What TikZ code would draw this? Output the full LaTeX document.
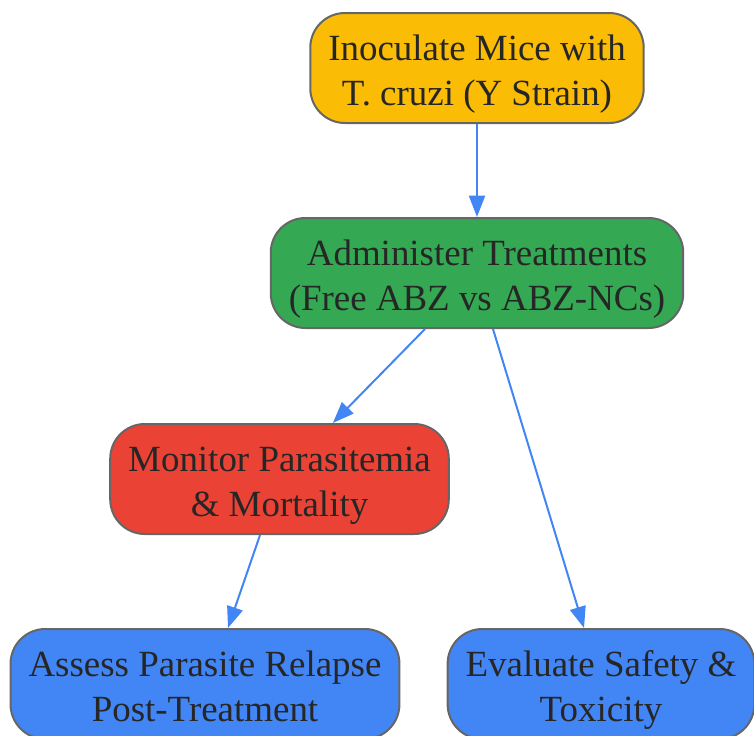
\documentclass[tikz,border=0pt]{standalone}
\usepackage{fontspec}
\setmainfont{Liberation Serif}
\usetikzlibrary{arrows.meta}

\definecolor{gyellow}{HTML}{FBBC05}
\definecolor{ggreen}{HTML}{34A853}
\definecolor{gred}{HTML}{EA4335}
\definecolor{gblue}{HTML}{4285F4}
\definecolor{edgegray}{HTML}{666666}
\definecolor{txtgray}{HTML}{262626}

\tikzset{
  stage/.style={draw=edgegray, line width=1.5pt, rounded corners=26pt,
    align=center, inner xsep=13.5pt, minimum height=82.5pt,
    text height=61pt, text depth=5.5pt,
    text=txtgray, font=\fontsize{27.7pt}{33.75pt}\selectfont},
  flow/.style={-{Triangle[length=16pt,width=12pt]}, draw=gblue, line width=1.5pt}
}

\begin{document}
\begin{tikzpicture}[x=0.75pt, y=-0.75pt]
    \useasboundingbox (0,0) rectangle (754,736);

    % 步骤节点
    \node[stage, fill=gyellow] (inoculate) at (477,68) {Inoculate Mice with\\T. cruzi (Y Strain)};
    \node[stage, fill=ggreen] (treat) at (477,273) {Administer Treatments\\(Free ABZ vs ABZ-NCs)};
    \node[stage, fill=gred] (monitor) at (279.5,479) {Monitor Parasitemia\\\& Mortality};
    \node[stage, fill=gblue] (relapse) at (205,684) {Assess Parasite Relapse\\Post-Treatment};
    \node[stage, fill=gblue] (safety) at (601,684) {Evaluate Safety \&\\Toxicity};

    % 连线
    \draw[flow] (inoculate.south) -- (treat.north);
    \draw[flow] ([xshift=-39pt]treat.south) -- ([xshift=40pt]monitor.north);
    \draw[flow] ([xshift=12pt]treat.south) -- ([xshift=-12.75pt]safety.north);
    \draw[flow] ([xshift=-14.6pt]monitor.south) -- ([xshift=17.25pt]relapse.north);
\end{tikzpicture}
\end{document}
